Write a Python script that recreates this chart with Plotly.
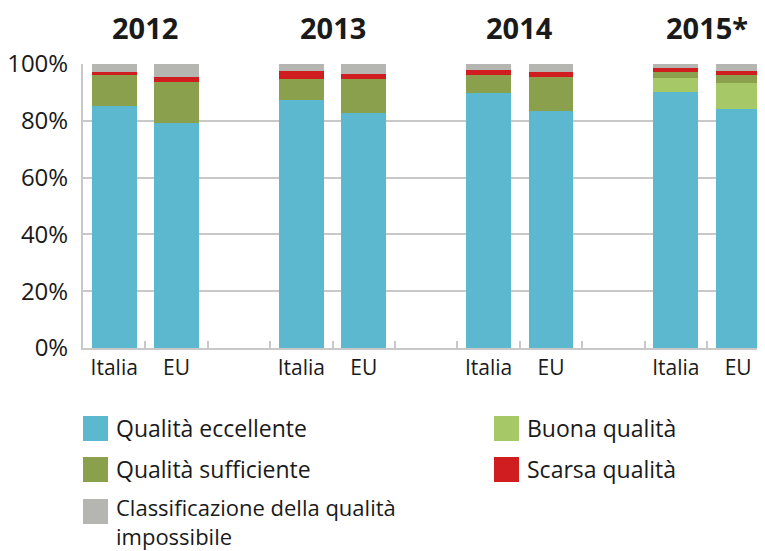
import plotly.graph_objects as go

years = ["2012", "2013", "2014", "2015*"]
countries = ["Italia", "EU"]

# values per bar: Italia 2012, EU 2012, Italia 2013, EU 2013, ...
eccellente = [85.3, 79.4, 87.4, 82.8, 89.8, 83.5, 90.2, 84.2]
buona = [0, 0, 0, 0, 0, 0, 5.0, 9.1]
sufficiente = [10.8, 14.3, 7.3, 11.9, 6.3, 11.9, 2.0, 2.8]
scarsa = [1.2, 1.7, 2.8, 1.8, 1.8, 1.8, 1.4, 1.4]
non_class = [2.7, 4.6, 2.5, 3.5, 2.1, 2.8, 1.4, 2.5]

series_names = ["Qualità eccellente", "Buona qualità", "Qualità sufficiente",
                "Scarsa qualità", "Classificazione della qualità impossibile"]
series_vals = [eccellente, buona, sufficiente, scarsa, non_class]
colors = ["#5BB8CF", "#A6C866", "#8BA04C", "#CF1D20", "#B5B5B1"]

# build category slots with an empty slot between years
cats, labels, idx_map = [], [], []
k = 0
for yi, yr in enumerate(years):
    for c in countries:
        cats.append(f"{c}|{yr}")
        labels.append(c)
        idx_map.append(k)
        k += 1
    if yi < len(years) - 1:
        cats.append(f"gap|{yr}")
        labels.append("")
        idx_map.append(None)

FONT = "Open Sans"
TXT = "#1a1a1a"
GRID = "#C8C8C8"

fig = go.Figure()
for name, vals, col in zip(series_names, series_vals, colors):
    y = [vals[i] if i is not None else None for i in idx_map]
    fig.add_trace(go.Bar(x=cats, y=y, name=name, marker=dict(color=col, line=dict(width=0)),
                         width=0.72, showlegend=False))

# the page body has an 8px margin: size the figure so it fills the window exactly
OFF = 8
W, H = 765 - OFF, 551 - OFF
L, R, T, B = 83 - OFF, 0, 64 - OFF, 203
ph = H - T - B
pw = W - L - R

def py(p):  # window pixel y -> paper y
    return (H - B - (p - OFF)) / ph

def px(p):  # window pixel x -> paper x
    return (p - OFF - L) / pw

annotations = []
# year headings centered between the two bars of each group
for yi, yr in enumerate(years):
    annotations.append(dict(x=yi * 3 + 0.5, y=py(28), xref="x", yref="paper", text=f"<b>{yr}</b>",
                            showarrow=False, font=dict(family=FONT, size=29, color=TXT),
                            xanchor="center", yanchor="middle"))

# custom legend (series index, left x, top y, text-line centres, font size)
shapes = []
leg = [
    (0, 83, 416, [("Qualità eccellente", 428)], 23),
    (2, 83, 457, [("Qualità sufficiente", 469)], 23),
    (4, 83, 499, [("Classificazione della qualità", 507), ("impossibile", 536)], 22),
    (1, 494, 416, [("Buona qualità", 428)], 23),
    (3, 494, 457, [("Scarsa qualità", 469)], 23),
]
for ci, x0, y0, lines, fs in leg:
    shapes.append(dict(type="rect", xref="paper", yref="paper", x0=px(x0), x1=px(x0 + 25),
                       y0=py(y0), y1=py(y0 + 25), fillcolor=colors[ci], line=dict(width=0)))
    for txt, yc in lines:
        annotations.append(dict(x=px(x0 + 31), y=py(yc), xref="paper", yref="paper",
                                text=txt, showarrow=False, xanchor="left", yanchor="middle", align="left",
                                font=dict(family=FONT, size=fs, color=TXT)))

fig.update_layout(
    width=W, height=H,
    margin=dict(l=L, r=R, t=T, b=B, autoexpand=False),
    barmode="stack",
    plot_bgcolor="white", paper_bgcolor="white",
    font=dict(family=FONT, color=TXT),
    annotations=annotations,
    shapes=shapes,
    xaxis=dict(type="category", categoryorder="array", categoryarray=cats,
               tickmode="array", tickvals=cats, ticktext=labels, automargin=False,
               tickson="boundaries", ticks="inside", ticklen=7, tickwidth=1.5, tickcolor=GRID,
               range=[-0.5, 10.43], showgrid=False,
               showline=True, linecolor=GRID, linewidth=2,
               tickfont=dict(family=FONT, size=21, color=TXT)),
    yaxis=dict(range=[0, 100], tickvals=[0, 20, 40, 60, 80, 100],
               ticktext=["0%", "20%", "40%", "60%", "80%", "100%"], automargin=False,
               showgrid=True, gridcolor=GRID, gridwidth=2, zeroline=False,
               showline=True, linecolor=GRID, linewidth=2,
               ticks="", ticklabelstandoff=8,
               tickfont=dict(family=FONT, size=24, color=TXT)),
)

fig.write_html("out.html")
